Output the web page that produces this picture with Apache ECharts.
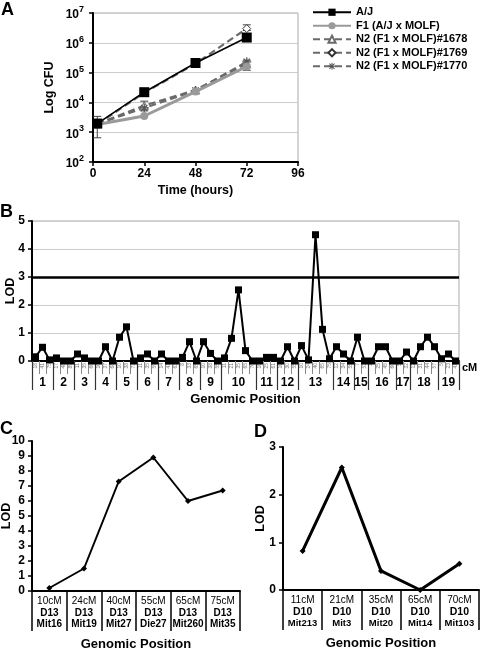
<!DOCTYPE html>
<html>
<head>
<meta charset="utf-8">
<script src="https://cdn.jsdelivr.net/npm/echarts@6/dist/echarts.min.js"></script>
<style>
html,body{margin:0;padding:0;background:#fff;}
#chart{width:480px;height:650px;}
</style>
</head>
<body>
<div id="chart"></div>
<script>
// ---------- Panel A data ----------
const timeA = [2, 24, 48, 72];
const xTicksA = [0, 24, 48, 72, 96];
const ajCFU = [1950, 22000, 210000, 1500000];
const f1CFU = [1800, 3500, 23000, 160000];
const n1678CFU = [1900, 7800, 26000, 200000];
const n1769CFU = [1850, 21000, 200000, 3000000];
const n1770CFU = [1900, 6500, 25000, 230000];
const errTimeA = [2, 24, 72, 72];
const errLowA = [650, 5200, 120000, 2600000];
const errHighA = [3400, 11000, 260000, 4000000];
const legendA = ['A/J', 'F1 (A/J x MOLF)', 'N2 (F1 x MOLF)#1678', 'N2 (F1 x MOLF)#1769', 'N2 (F1 x MOLF)#1770'];

// ---------- Panel B data ----------
const chromNames = ['1','2','3','4','5','6','7','8','9','10','11','12','13','14','15','16','17','18','19'];
const chromCounts = [3,3,3,3,3,3,3,3,3,5,3,3,5,3,2,4,2,4,3];
const cmLabelsB = [
  '18','41','75', '17','48','89', '11','35','60', '10','37','68', '10','38','73',
  '11','35','59', '14','41','63', '8','33','65', '10','38','55',
  '11','21','35','65','70', '10','25','61', '10','30','55', '10','24','40','65','75',
  '12','34','55', '7','53', '4','25','45','60', '5','32', '12','31','44','57', '5','23','41'
];
const lodB = [
  0.15,0.49,0.04, 0.11,0,0, 0.25,0.11,0, 0,0.51,0, 0.85,1.22,0,
  0.11,0.25,0, 0.25,0,0, 0.13,0.69,0, 0.69,0.27,0,
  0.11,0.81,2.54,0.37,0, 0,0.13,0.13, 0,0.51,0, 0.55,0.04,4.51,1.13,0.08,
  0.51,0.25,0, 0.85,0, 0,0.51,0.51,0, 0,0.32, 0,0.51,0.85,0.51, 0.08,0.25,0
];
const thresholdB = 3;

// ---------- Panel C data ----------
const posC = ['10cM','24cM','40cM','55cM','65cM','75cM'];
const chrC = ['D13','D13','D13','D13','D13','D13'];
const markerC = ['Mit16','Mit19','Mit27','Die27','Mit260','Mit35'];
const lodC = [0.2, 1.5, 7.3, 8.9, 6.0, 6.7];

// ---------- Panel D data ----------
const posD = ['11cM','21cM','35cM','65cM','70cM'];
const chrD = ['D10','D10','D10','D10','D10'];
const markerD = ['Mit213','Mit3','Mit20','Mit14','Mit103'];
const lodD = [0.82, 2.57, 0.4, 0.0, 0.55];

// ---------- derived ----------
const FONT = 'Liberation Sans, Arial, Helvetica, sans-serif';
const chromBounds = [0];
const chromCenters = [];
chromCounts.forEach(function (c) {
  const s = chromBounds[chromBounds.length - 1];
  chromCenters.push(s + c / 2);
  chromBounds.push(s + c);
});
const nMarkers = chromBounds[chromBounds.length - 1];

function pairs(xs, ys) { return xs.map(function (x, i) { return [x, ys[i]]; }); }
const errDataA = errTimeA.map(function (t, i) { return [t, errLowA[i], errHighA[i]]; });
const catC = posC.map(function (p, i) { return p + '|' + chrC[i] + '|' + markerC[i]; });
const catD = posD.map(function (p, i) { return p + '|' + chrD[i] + '|' + markerD[i]; });

function catLabelFmt(v) {
  const p = v.split('|');
  return '{a|' + p[0] + '}\n{b|' + p[1] + '}\n{c|' + p[2] + '}';
}

const asteriskPath = 'path://M4.3,0 L5.7,0 L5.7,10 L4.3,10 Z M0,4.3 L10,4.3 L10,5.7 L0,5.7 Z M1,2 L2,1 L9,8 L8,9 Z M8,1 L9,2 L2,9 L1,8 Z';
const dashGray = '#6a6a6a';

const boldAxisLabel = { color: '#000', fontWeight: 'bold', fontSize: 12, fontFamily: FONT };
const nameStyle = { fontSize: 12.5, fontWeight: 'bold', color: '#000', fontFamily: FONT };
const nameStyle13 = { fontSize: 13, fontWeight: 'bold', color: '#000', fontFamily: FONT };

const option = {
  animation: false,
  textStyle: { fontFamily: FONT },
  graphic: [
    { type: 'text', left: 1, top: 1, style: { text: 'A', fontSize: 18, fontWeight: 'bold', fontFamily: FONT, fill: '#000' } },
    { type: 'text', left: 0, top: 203, style: { text: 'B', fontSize: 18, fontWeight: 'bold', fontFamily: FONT, fill: '#000' } },
    { type: 'text', left: 0, top: 420, style: { text: 'C', fontSize: 18, fontWeight: 'bold', fontFamily: FONT, fill: '#000' } },
    { type: 'text', left: 254, top: 423, style: { text: 'D', fontSize: 18, fontWeight: 'bold', fontFamily: FONT, fill: '#000' } },
    { type: 'text', left: 462, top: 362, style: { text: 'cM', fontSize: 11, fontWeight: 'bold', fontFamily: FONT, fill: '#000' } }
  ],
  legend: {
    data: legendA,
    orient: 'vertical',
    left: 307,
    top: 1,
    itemWidth: 38,
    itemHeight: 9,
    itemGap: 1,
    textStyle: { fontSize: 11, fontWeight: 'bold', fontFamily: FONT, color: '#000', lineHeight: 12.5 }
  },
  grid: [
    { left: 93, top: 13, width: 205, height: 149, show: true, borderColor: '#aaa', borderWidth: 1, outerBoundsMode: 'none' },
    { left: 32, top: 221, width: 427, height: 140, show: true, borderColor: '#aaa', borderWidth: 1, outerBoundsMode: 'none' },
    { left: 32, top: 441, width: 208, height: 150, outerBoundsMode: 'none' },
    { left: 283, top: 447, width: 196, height: 143, outerBoundsMode: 'none' }
  ],
  xAxis: [
    { // A
      gridIndex: 0, type: 'value', min: 0, max: 96, interval: 24,
      axisLine: { lineStyle: { color: '#000', width: 2 } },
      axisTick: { show: true, length: 4, lineStyle: { color: '#000', width: 1.5 } },
      splitLine: { show: false },
      axisLabel: Object.assign({ margin: 6, customValues: xTicksA }, boldAxisLabel),
      name: 'Time (hours)', nameLocation: 'middle', nameGap: 22, nameMoveOverlap: false,
      nameTextStyle: nameStyle
    },
    { // B markers
      gridIndex: 1, type: 'category', data: cmLabelsB, boundaryGap: true,
      axisLine: { lineStyle: { color: '#000', width: 2 } },
      axisTick: { show: true, interval: 0, length: 13, lineStyle: { color: '#888', width: 1 } },
      axisLabel: { interval: 0, rotate: 90, fontSize: 5, color: '#777', margin: 2, fontFamily: FONT },
      name: 'Genomic Position', nameLocation: 'middle', nameGap: 32, nameMoveOverlap: false,
      nameTextStyle: nameStyle13
    },
    { // B chromosomes
      gridIndex: 1, type: 'value', min: 0, max: nMarkers, position: 'bottom', offset: 0,
      axisLine: { show: false },
      splitLine: { show: false },
      axisTick: { show: true, length: 29, customValues: chromBounds, lineStyle: { color: '#333', width: 1.2 } },
      axisLabel: {
        customValues: chromCenters, margin: 16, fontSize: 12, fontWeight: 'bold', color: '#000', fontFamily: FONT,
        formatter: function (v) {
          const i = chromCenters.findIndex(function (c) { return Math.abs(c - v) < 1e-6; });
          return i >= 0 ? chromNames[i] : '';
        }
      }
    },
    { // C
      gridIndex: 2, type: 'category', data: catC, boundaryGap: true,
      axisLine: { lineStyle: { color: '#000', width: 2 } },
      axisTick: { show: true, interval: 0, length: 40, lineStyle: { color: '#000', width: 1.5 } },
      axisLabel: {
        interval: 0, margin: 4, formatter: catLabelFmt,
        rich: {
          a: { fontSize: 10, color: '#000', lineHeight: 12, fontFamily: FONT },
          b: { fontSize: 10, fontWeight: 'bold', color: '#000', lineHeight: 12, fontFamily: FONT },
          c: { fontSize: 10, fontWeight: 'bold', color: '#000', lineHeight: 11, fontFamily: FONT }
        }
      },
      name: 'Genomic Position', nameLocation: 'middle', nameGap: 47, nameMoveOverlap: false,
      nameTextStyle: nameStyle13
    },
    { // D
      gridIndex: 3, type: 'category', data: catD, boundaryGap: true,
      axisLine: { lineStyle: { color: '#000', width: 2 } },
      axisTick: { show: true, interval: 0, length: 40, lineStyle: { color: '#000', width: 1.5 } },
      axisLabel: {
        interval: 0, margin: 4, formatter: catLabelFmt,
        rich: {
          a: { fontSize: 10, color: '#000', lineHeight: 12, fontFamily: FONT },
          b: { fontSize: 10.5, fontWeight: 'bold', color: '#000', lineHeight: 12, fontFamily: FONT },
          c: { fontSize: 9.5, fontWeight: 'bold', color: '#000', lineHeight: 11, fontFamily: FONT }
        }
      },
      name: 'Genomic Position', nameLocation: 'middle', nameGap: 47, nameMoveOverlap: false,
      nameTextStyle: nameStyle13
    }
  ],
  yAxis: [
    { // A
      gridIndex: 0, type: 'log', logBase: 10, min: 100, max: 10000000,
      axisLine: { show: true, lineStyle: { color: '#000', width: 2 } },
      axisTick: { show: true, length: 4, lineStyle: { color: '#000', width: 1.5 } },
      splitLine: { show: true, lineStyle: { color: '#ccc', width: 1 } },
      axisLabel: {
        margin: 9,
        formatter: function (v) { return '{b|10}{s|' + Math.round(Math.log10(v)) + '}'; },
        rich: {
          b: { fontSize: 12, fontWeight: 'bold', color: '#000', fontFamily: FONT, lineHeight: 16, verticalAlign: 'bottom' },
          s: { fontSize: 9, fontWeight: 'bold', color: '#000', fontFamily: FONT, lineHeight: 10, verticalAlign: 'top' }
        }
      },
      name: 'Log CFU', nameLocation: 'middle', nameGap: 37, nameMoveOverlap: false,
      nameTextStyle: nameStyle
    },
    { // B
      gridIndex: 1, type: 'value', min: 0, max: 5, interval: 1,
      axisLine: { show: true, lineStyle: { color: '#000', width: 2 } },
      axisTick: { show: true, length: 4, lineStyle: { color: '#000', width: 1.5 } },
      splitLine: { show: true, lineStyle: { color: '#ccc', width: 1 } },
      axisLabel: Object.assign({ margin: 7 }, boldAxisLabel),
      name: 'LOD', nameLocation: 'middle', nameGap: 15, nameMoveOverlap: false,
      nameTextStyle: nameStyle
    },
    { // C
      gridIndex: 2, type: 'value', min: 0, max: 10, interval: 1,
      axisLine: { show: true, lineStyle: { color: '#000', width: 2 } },
      axisTick: { show: true, length: 4, lineStyle: { color: '#000', width: 1.5 } },
      splitLine: { show: false },
      axisLabel: Object.assign({ margin: 7 }, boldAxisLabel),
      name: 'LOD', nameLocation: 'middle', nameGap: 19, nameMoveOverlap: false,
      nameTextStyle: nameStyle
    },
    { // D
      gridIndex: 3, type: 'value', min: 0, max: 3, interval: 1,
      axisLine: { show: true, lineStyle: { color: '#000', width: 2 } },
      axisTick: { show: true, length: 4, lineStyle: { color: '#000', width: 1.5 } },
      splitLine: { show: false },
      axisLabel: Object.assign({ margin: 7 }, boldAxisLabel),
      name: 'LOD', nameLocation: 'middle', nameGap: 16, nameMoveOverlap: false,
      nameTextStyle: nameStyle
    }
  ],
  series: [
    {
      type: 'custom', name: 'errA', xAxisIndex: 0, yAxisIndex: 0, data: errDataA, silent: true, z: 1,
      encode: { x: 0, y: [1, 2] },
      renderItem: function (params, api) {
        const lo = api.coord([api.value(0), api.value(1)]);
        const hi = api.coord([api.value(0), api.value(2)]);
        const st = { stroke: '#444', lineWidth: 1 };
        return { type: 'group', children: [
          { type: 'line', shape: { x1: lo[0], y1: lo[1], x2: hi[0], y2: hi[1] }, style: st },
          { type: 'line', shape: { x1: lo[0] - 4, y1: lo[1], x2: lo[0] + 4, y2: lo[1] }, style: st },
          { type: 'line', shape: { x1: hi[0] - 4, y1: hi[1], x2: hi[0] + 4, y2: hi[1] }, style: st }
        ] };
      }
    },
    {
      name: legendA[2], type: 'line', xAxisIndex: 0, yAxisIndex: 0, data: pairs(timeA, n1678CFU),
      symbol: 'triangle', symbolSize: 8,
      lineStyle: { color: dashGray, width: 2.2, type: [7, 4] },
      itemStyle: { color: '#fff', borderColor: dashGray, borderWidth: 1 }, z: 2
    },
    {
      name: legendA[3], type: 'line', xAxisIndex: 0, yAxisIndex: 0, data: pairs(timeA, n1769CFU),
      symbol: 'diamond', symbolSize: 8,
      lineStyle: { color: dashGray, width: 2.2, type: [7, 4] },
      itemStyle: { color: '#fff', borderColor: '#333', borderWidth: 1 }, z: 2
    },
    {
      name: legendA[4], type: 'line', xAxisIndex: 0, yAxisIndex: 0, data: pairs(timeA, n1770CFU),
      symbol: asteriskPath, symbolSize: 9,
      lineStyle: { color: dashGray, width: 2.2, type: [7, 4] },
      itemStyle: { color: '#555' }, z: 2
    },
    {
      name: legendA[1], type: 'line', xAxisIndex: 0, yAxisIndex: 0, data: pairs(timeA, f1CFU),
      symbol: 'circle', symbolSize: 8,
      lineStyle: { color: '#9a9a9a', width: 3 },
      itemStyle: { color: '#9a9a9a' }, z: 3
    },
    {
      name: legendA[0], type: 'line', xAxisIndex: 0, yAxisIndex: 0, data: pairs(timeA, ajCFU),
      symbol: 'rect', symbolSize: 10,
      lineStyle: { color: '#000', width: 1.6 },
      itemStyle: { color: '#000' }, z: 4
    },
    {
      name: 'LOD B', type: 'line', xAxisIndex: 1, yAxisIndex: 1, data: lodB,
      symbol: 'rect', symbolSize: 7,
      lineStyle: { color: '#000', width: 2 },
      itemStyle: { color: '#000' },
      markLine: {
        silent: true, symbol: ['none', 'none'], label: { show: false },
        lineStyle: { color: '#000', width: 2.5, type: 'solid' },
        data: [{ yAxis: thresholdB }]
      }
    },
    {
      name: 'LOD C', type: 'line', xAxisIndex: 3, yAxisIndex: 2, data: lodC,
      symbol: 'diamond', symbolSize: 6,
      lineStyle: { color: '#000', width: 2 },
      itemStyle: { color: '#000' }
    },
    {
      name: 'LOD D', type: 'line', xAxisIndex: 4, yAxisIndex: 3, data: lodD,
      symbol: 'diamond', symbolSize: 6,
      lineStyle: { color: '#000', width: 3 },
      itemStyle: { color: '#000' }
    }
  ]
};

const chart = echarts.init(document.getElementById('chart'), null, { renderer: 'canvas' });
chart.setOption(option);
</script>
</body>
</html>
